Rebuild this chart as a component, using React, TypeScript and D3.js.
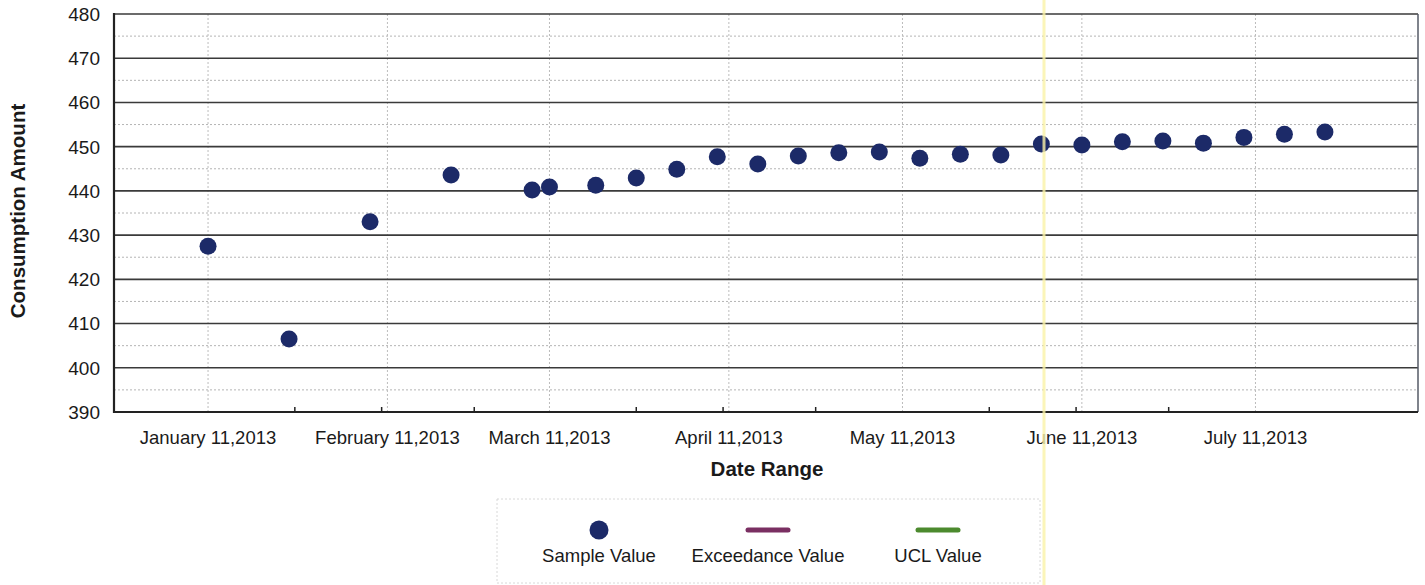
import React from "react";
import * as d3 from "d3";

const sampleDates: string[] = [
  "2013-01-11", "2013-01-25", "2013-02-08", "2013-02-22", "2013-03-08", "2013-03-11",
  "2013-03-19", "2013-03-26", "2013-04-02", "2013-04-09", "2013-04-16", "2013-04-23",
  "2013-04-30", "2013-05-07", "2013-05-14", "2013-05-21", "2013-05-28", "2013-06-04",
  "2013-06-11", "2013-06-18", "2013-06-25", "2013-07-02", "2013-07-09", "2013-07-16",
  "2013-07-23",
];
const sampleValues: number[] = [
  427.5, 406.5, 433.0, 443.6, 440.2, 440.9, 441.3, 442.9, 444.9, 447.7, 446.1, 447.9,
  448.6, 448.8, 447.4, 448.3, 448.1, 450.6, 450.4, 451.1, 451.3, 450.8, 452.1, 452.8,
  453.3,
];
const labelDates: string[] = [
  "2013-01-11", "2013-02-11", "2013-03-11", "2013-04-11", "2013-05-11", "2013-06-11", "2013-07-11",
];
const minorTickDates: string[] = [
  "2013-01-26", "2013-02-10", "2013-02-26", "2013-03-26", "2013-04-10", "2013-04-26",
  "2013-05-26", "2013-06-10", "2013-06-26",
];
const yMajorTicks: number[] = [390, 400, 410, 420, 430, 440, 450, 460, 470, 480];
const yMinorTicks: number[] = [395, 405, 415, 425, 435, 445, 455, 465, 475];
const xDomain: string[] = ["2012-12-25T18:00:00Z", "2013-08-08T02:00:00Z"];
const yDomain: number[] = [390, 480];
const legendItems: { label: string; kind: string; color: string }[] = [
  { label: "Sample Value", kind: "dot", color: "#1c2a68" },
  { label: "Exceedance Value", kind: "line", color: "#7a2f62" },
  { label: "UCL Value", kind: "line", color: "#4c8a2e" },
];

const parse = (s: string) => d3.isoParse(s.length === 10 ? s + "T00:00:00Z" : s) as Date;
const fmt = d3.utcFormat("%B %d,%Y");

export default function App() {
  const W = 1425, H = 585;
  const left = 114, right = 1418, top = 14, bottom = 412;
  const x = d3.scaleUtc().domain(xDomain.map(parse)).range([left, right]);
  const y = d3.scaleLinear().domain(yDomain).range([bottom, top]);
  const font = "'Liberation Sans', Arial, sans-serif";
  const legendX = [599, 768, 938];

  return (
    <svg width={W} height={H} style={{ position: "absolute", left: 0, top: 0, background: "#fff" }} fontFamily={font}>
      <rect x={0} y={0} width={W} height={H} fill="#fff" />
      {yMinorTicks.map((v) => (
        <line key={"mn" + v} x1={left} x2={right} y1={y(v)} y2={y(v)} stroke="#b4b4b4" strokeWidth={1} strokeDasharray="2,2" />
      ))}
      {labelDates.map((d) => {
        const xx = x(parse(d));
        return <line key={"vg" + d} x1={xx} x2={xx} y1={top} y2={bottom} stroke="#bcbcbc" strokeWidth={1} strokeDasharray="2,2" />;
      })}
      {yMajorTicks.map((v) => (
        <line key={"mj" + v} x1={left} x2={right} y1={y(v)} y2={y(v)} stroke="#3a3a3a" strokeWidth={1.6} />
      ))}
      <line x1={right} x2={right} y1={top} y2={bottom} stroke="#555a66" strokeWidth={1.5} />
      <line x1={left} x2={left} y1={top - 1} y2={bottom + 1} stroke="#222" strokeWidth={2.2} />
      <line x1={left - 1} x2={right} y1={bottom} y2={bottom} stroke="#222" strokeWidth={2.2} />
      {minorTickDates.map((d) => {
        const xx = x(parse(d));
        return <line key={"mt" + d} x1={xx} x2={xx} y1={bottom} y2={bottom - 5} stroke="#222" strokeWidth={1.5} />;
      })}
      {yMajorTicks.map((v) => (
        <text key={"yl" + v} x={100} y={y(v)} dy="0.36em" textAnchor="end" fontSize={19} fill="#1a1a1a">{v}</text>
      ))}
      {labelDates.map((d) => (
        <text key={"xl" + d} x={x(parse(d))} y={444} textAnchor="middle" fontSize={18.5} fill="#1a1a1a">{fmt(parse(d))}</text>
      ))}
      <text x={767} y={476} textAnchor="middle" fontSize={20.5} fontWeight="bold" fill="#1a1a1a">Date Range</text>
      <text transform="translate(25,211) rotate(-90)" textAnchor="middle" fontSize={20.5} fontWeight="bold" fill="#1a1a1a">Consumption Amount</text>
      {sampleDates.map((d, i) => (
        <circle key={"p" + d} cx={x(parse(d))} cy={y(sampleValues[i])} r={8.5} fill="#1c2a68" />
      ))}
      <rect x={497} y={499} width={543} height={84} fill="none" stroke="#d8d8d8" strokeWidth={1} strokeDasharray="2,2" />
      {legendItems.map((it, i) => (
        <g key={it.label}>
          {it.kind === "dot" ? (
            <circle cx={legendX[i]} cy={530} r={9.5} fill={it.color} />
          ) : (
            <line x1={legendX[i] - 20} x2={legendX[i] + 20} y1={530} y2={530} stroke={it.color} strokeWidth={5} strokeLinecap="round" />
          )}
          <text x={legendX[i]} y={562} textAnchor="middle" fontSize={18.5} fill="#1a1a1a">{it.label}</text>
        </g>
      ))}
      <line x1={1044} x2={1044} y1={0} y2={H} stroke="#fbf3a8" strokeWidth={3} opacity={0.8} />
    </svg>
  );
}
